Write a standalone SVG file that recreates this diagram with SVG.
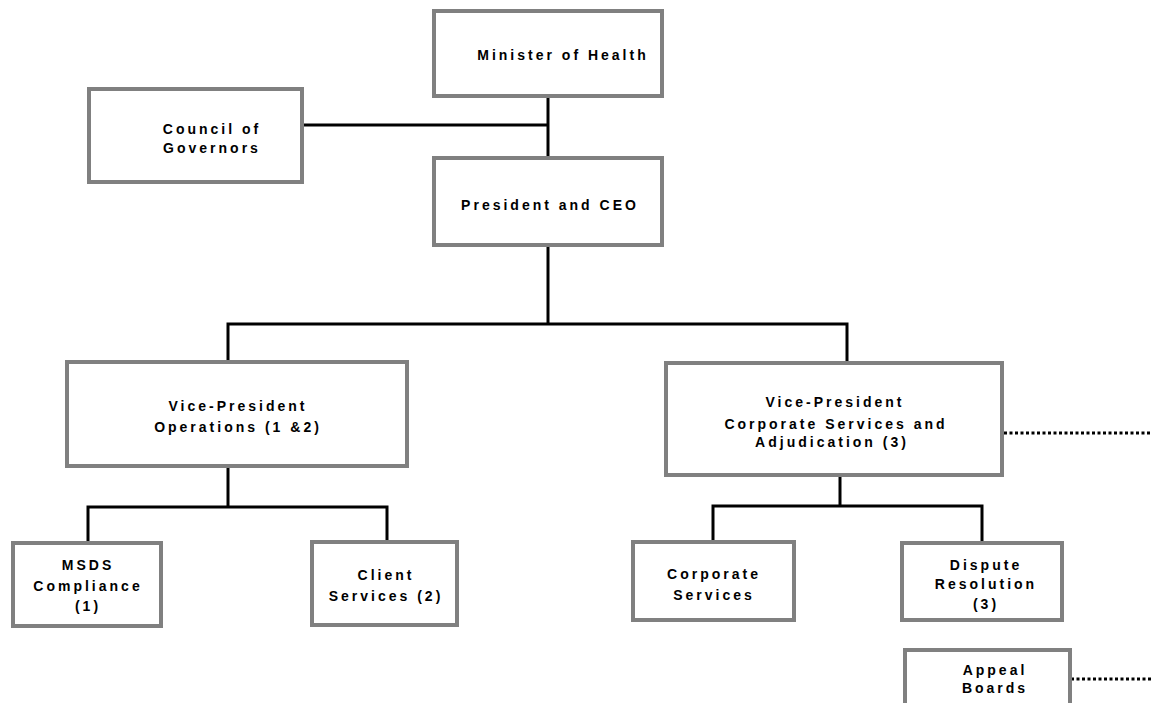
<svg xmlns="http://www.w3.org/2000/svg" width="1151" height="703" viewBox="0 0 1151 703">
<style>
.box{fill:#ffffff;stroke:#808080;stroke-width:4}
.t{font-family:"Liberation Sans",Arial,sans-serif;font-weight:bold;font-size:14px;letter-spacing:3px;fill:#000;text-anchor:middle}
.ln{stroke:#000;stroke-width:3;fill:none}
.dot{stroke:#000;stroke-width:3;fill:none;stroke-dasharray:3 2.5}
</style>
<rect width="1151" height="703" fill="#ffffff"/>
<g id="connectors">
<line class="ln" x1="548" y1="97" x2="548" y2="158"/>
<line class="ln" x1="302" y1="125" x2="548" y2="125"/>
<polyline class="ln" points="548,245 548,324"/>
<polyline class="ln" points="228,362 228,324 847,324 847,362"/>
<polyline class="ln" points="228,466 228,507"/>
<polyline class="ln" points="88,542 88,507 387,507 387,542"/>
<polyline class="ln" points="840,475 840,506"/>
<polyline class="ln" points="713,542 713,506 982,506 982,543"/>
<line class="dot" x1="1004" y1="433" x2="1151" y2="433"/>
<line class="dot" x1="1071" y1="679" x2="1151" y2="679"/>
</g>
<g id="minister">
<rect class="box" x="434" y="11" width="228" height="85"/>
<text class="t" x="563" y="60">Minister of Health</text>
</g>
<g id="council">
<rect class="box" x="89" y="89" width="213" height="93"/>
<text class="t" x="212" y="134">Council of</text>
<text class="t" x="212" y="153">Governors</text>
</g>
<g id="president">
<rect class="box" x="434" y="158" width="228" height="87"/>
<text class="t" x="550" y="210">President and CEO</text>
</g>
<g id="vp-operations">
<rect class="box" x="67" y="362" width="340" height="104"/>
<text class="t" x="238" y="411">Vice-President</text>
<text class="t" x="238" y="432">Operations (1 &amp;2)</text>
</g>
<g id="vp-corporate">
<rect class="box" x="666" y="363" width="336" height="112"/>
<text class="t" x="835" y="407">Vice-President</text>
<text class="t" x="836" y="429">Corporate Services and</text>
<text class="t" x="832" y="447">Adjudication (3)</text>
</g>
<g id="msds">
<rect class="box" x="13" y="543" width="148" height="83"/>
<text class="t" x="88" y="570">MSDS</text>
<text class="t" x="88" y="591">Compliance</text>
<text class="t" x="88" y="611">(1)</text>
</g>
<g id="client-services">
<rect class="box" x="312" y="542" width="145" height="83"/>
<text class="t" x="386" y="580">Client</text>
<text class="t" x="386" y="601">Services (2)</text>
</g>
<g id="corporate-services">
<rect class="box" x="633" y="542" width="161" height="78"/>
<text class="t" x="714" y="579">Corporate</text>
<text class="t" x="714" y="600">Services</text>
</g>
<g id="dispute-resolution">
<rect class="box" x="902" y="543" width="160" height="77"/>
<text class="t" x="986" y="570">Dispute</text>
<text class="t" x="986" y="589">Resolution</text>
<text class="t" x="986" y="609">(3)</text>
</g>
<g id="appeal-boards">
<rect class="box" x="905" y="650" width="165" height="60"/>
<text class="t" x="995" y="675">Appeal</text>
<text class="t" x="995" y="693">Boards</text>
</g>
</svg>
